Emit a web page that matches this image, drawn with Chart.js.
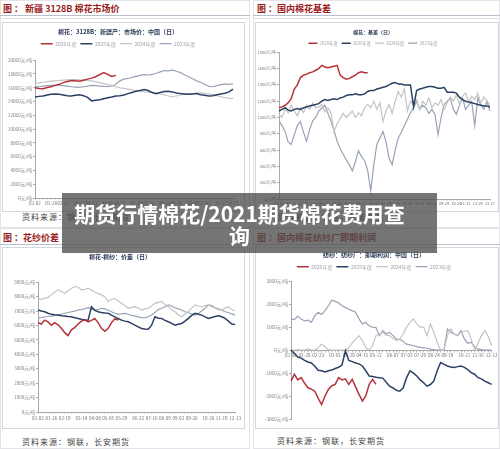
<!DOCTYPE html>
<html lang="zh">
<head>
<meta charset="UTF-8">
<title>期货行情棉花/2021期货棉花费用查询</title>
<script src="https://cdn.jsdelivr.net/npm/chart.js@4"></script>
<style>
  body { margin: 0; width: 500px; height: 449px; position: relative; overflow: hidden; background: #fff; font-family: "Noto Sans CJK SC", sans-serif; }
  .hdr { position: absolute; font-size: 9px; font-weight: bold; color: #9a1a1a; line-height: 12px; white-space: nowrap; }
  .rule { position: absolute; height: 2px; border-top: 1px solid #b9bfcb; border-bottom: 1px solid #dfe2e8; }
  .box { position: absolute; border: 1px solid #d4d7dd; box-sizing: border-box; }
  .frame { position: absolute; border: 1px solid #e2e4e8; box-sizing: border-box; }
  .src { position: absolute; font-size: 8px; color: #444; letter-spacing: 1px; line-height: 10px; white-space: nowrap; }
  canvas { position: absolute; }
  #banner {
    position: absolute; left: 62px; top: 193px; width: 375px; height: 60px;
    box-sizing: border-box; padding: 9px 20px 0 0;
    background: rgba(78, 78, 78, 0.78);
    color: #fff; font-weight: bold; font-size: 21px; line-height: 22px;
    text-align: center; white-space: nowrap;
  }
</style>
</head>
<body>

<div class="frame" style="left:0;top:0;width:250px;height:228px"></div>
<div class="frame" style="left:253px;top:0;width:247px;height:228px"></div>
<div class="frame" style="left:0;top:228px;width:250px;height:221px"></div>
<div class="frame" style="left:253px;top:228px;width:247px;height:221px"></div>

<div class="hdr" style="left:3px;top:3px">图 ： 新疆 3128B 棉花市场价</div>
<div class="hdr" style="left:257px;top:3px">图 ：国内棉花基差</div>
<div class="hdr" style="left:3px;top:232px">图 ：花纱价差</div>
<div class="hdr" style="left:257px;top:232px">图 ：国内棉花纺纱厂即期利润</div>

<div class="rule" style="left:0;top:15px;width:250px"></div>
<div class="rule" style="left:253px;top:15px;width:247px"></div>
<div class="rule" style="left:0;top:244px;width:250px"></div>
<div class="rule" style="left:253px;top:244px;width:247px"></div>

<div class="box" style="left:2px;top:22px;width:243px;height:190px"></div>
<div class="box" style="left:255px;top:22px;width:244px;height:190px"></div>
<div class="box" style="left:2px;top:247px;width:243px;height:182px"></div>
<div class="box" style="left:255px;top:247px;width:244px;height:182px"></div>

<div class="src" style="left:22px;top:212px">资料来源：钢联，长安期货</div>
<div class="src" style="left:277px;top:212px">资料来源：钢联，长安期货</div>
<div class="src" style="left:22px;top:437px">资料来源：钢联，长安期货</div>
<div class="src" style="left:277px;top:436px">资料来源：钢联，长安期货</div>

<canvas id="c1" width="240" height="186" style="left:3px;top:24px"></canvas>
<canvas id="c2" width="242" height="186" style="left:256px;top:24px"></canvas>
<canvas id="c3" width="240" height="181" style="left:3px;top:246px"></canvas>
<canvas id="c4" width="242" height="181" style="left:256px;top:246px"></canvas>

<div id="banner">期货行情棉花/2021期货棉花费用查<br>询</div>

<script>
// 年度图例
const seasons = ['2026年度', '2025年度', '2024年度', '2023年度'];
const seasonColors = ['#b3323a', '#2b4163', '#c4c4c4', '#98a3b6'];
const seasonWidths = [1.5, 1.5, 1.2, 1.2];

// 新疆3128B棉花市场价 (元/吨)
const priceTicks = ['01-02', '01-28', '02-21', '03-17', '04-11', '05-08', '06-01', '06-26', '07-20', '08-13', '09-06', '10-09', '11-03', '11-27', '12-21'];
const price2026 = [16000, 15900, 15850, 16050, 16150, 16350, 16500, 16750, 16900, 17050, 17000, 16950, 17100, 17250, 17400, 17600, 17900, 18200, 17950, 17650, 17800];
const price2025 = [14650, 14750, 14800, 14950, 15050, 15100, 15050, 14950, 14850, 14800,
  14900, 15000, 14850, 14600, 14100, 14200, 14250, 14400, 14550, 14650,
  14800, 14850, 14950, 15150, 15300, 15500, 15600, 15750, 15600, 15300,
  15150, 15300, 15450, 15500, 15400, 15250, 15150, 15100, 15050, 15100,
  15150, 15000, 14900, 14800, 14850, 15000, 15100, 15200, 15400, 15800];
const price2024 = [16650, 16700, 16800, 16900, 16950, 17000, 17050, 17100, 17150, 17200,
  17200, 17150, 17100, 17050, 17000, 16900, 16750, 16600, 16450, 16300,
  16150, 16000, 15900, 15800, 15700, 15600, 15500, 15400, 15350, 15300,
  15250, 15100, 14950, 14800, 14700, 14800, 14950, 15050, 15100, 15150,
  15200, 15250, 15200, 15100, 15000, 14850, 14700, 14550, 14450, 14450];
const price2023 = [16200, 16150, 16250, 16300, 16350, 16400, 16350, 16300, 16250, 16150,
  16100, 16050, 16150, 16250, 16350, 16300, 16250, 16200, 16150, 16250,
  16500, 17000, 17250, 17350, 17500, 17650, 17800, 17900, 17850, 17950,
  18100, 18300, 18500, 18450, 18550, 18400, 18200, 17900, 17600, 17300,
  17000, 16800, 16500, 16200, 16150, 16300, 16450, 16550, 16500, 16550];

// 国内棉花基差 (元/吨)
const basisTicks = ['01-02', '01-20', '02-14', '03-04', '03-22', '04-09', '04-27', '05-17', '06-05', '06-25', '07-15', '08-04', '08-24', '09-11', '09-29', '10-24', '11-11', '11-29', '12-17'];
const basis2026 = [1120, 1130, 1150, 1180, 1230, 1350, 1400, 1490, 1520, 1530, 1550, 1560, 1580, 1600, 1640, 1620, 1610, 1620, 1630, 1640, 1520, 1490, 1470, 1480, 1500, 1520, 1550, 1560, 1550, 1550];
const basis2025 = [1080, 1100, 1120, 1090, 1080, 1100, 1110, 1100, 1120, 1130,
  1140, 1150, 1160, 1170, 1200, 1220, 1210, 1220, 1230, 1220,
  1240, 1250, 1270, 1280, 1280, 1290, 1280, 1280, 1290, 1320,
  1330, 1330, 1350, 1360, 1370, 1380, 1400, 1420, 1430, 1410,
  1410, 1400, 1400, 1400, 1130, 1330, 1350, 1360, 1370, 1380,
  1380, 1370, 1360, 1360, 1370, 1310, 1310, 1310, 1300, 1250,
  1220, 1200, 1190, 1180, 1170, 1160, 1150, 1140, 1140, 1130];
const basis2024 = [1040, 1000, 1100, 1060, 1150, 1080, 1020, 1120, 1060, 1150,
  1100, 1180, 1120, 1130, 1160, 1070, 1120, 1060, 830, 920,
  990, 1050, 1000, 1040, 1080, 1000, 1060, 1020, 1120, 1160,
  1120, 1200, 1100, 1180, 950, 1080, 1160, 1050, 1200, 1320,
  1250, 1350, 1080, 1200, 1160, 1220, 1100, 1200, 1150, 1240,
  1120, 1180, 1150, 1220, 1100, 1180, 1250, 1200, 1280, 1160,
  1260, 1300, 1200, 1260, 1220, 1300, 1180, 1250, 1200, 1150];
const basis2023 = [955, 900, 830, 700, 670, 790, 900, 950, 820, 710,
  850, 955, 1000, 1080, 1120, 1150, 1050, 955, 840, 710,
  620, 550, 480, 420, 345, 460, 590, 520, 470, 350,
  100, 420, 670, 750, 830, 700, 500, 420, 600, 750,
  820, 900, 980, 1060, 1120, 1200, 1100, 1150, 1120, 1050,
  1100, 1040, 790, 1000, 1160, 1200, 1240, 1100, 1040, 1150,
  1240, 1100, 1150, 1200, 900, 1240, 1150, 1100, 1200, 1080];

// 花纱价差 (元/吨)
const spreadTicks = ['01-02', '01-26', '02-19', '03-14', '04-08', '05-05', '05-29', '06-22', '07-16', '08-09', '09-02', '09-26', '10-26', '11-19', '12-13'];
const spread2026 = [6200, 6100, 6370, 6250, 6020, 6200, 6050, 5800, 5500, 5300, 5700, 5850, 6100, 6300, 6400, 6250, 6350, 6480, 6200, 5800, 5600, 5800, 6200, 6450, 6380];
const spread2025 = [7070, 7000, 6950, 6850, 6770, 6740, 6720, 6680, 6660, 6620,
  6600, 6540, 6490, 6430, 6380, 6370, 7300, 7050, 6950, 6900,
  6860, 6840, 6720, 6600, 6480, 6370, 6300, 6260, 6150, 6020,
  5900, 5790, 5760, 5740, 6020, 6600, 6500, 6490, 6350, 6260,
  6150, 6020, 6080, 6140, 6300, 6490, 6700, 6840, 6780, 6720,
  6600, 6490, 6550, 6620, 6670, 6600, 6490, 6300, 6100, 6070];
const spread2024 = [7840, 7820, 7880, 7950, 8120, 8300, 8470, 8350, 8230, 8400,
  8580, 8700, 8650, 8470, 8500, 8580, 8450, 8300, 8230, 8120,
  8000, 7650, 7800, 7880, 7700, 7530, 7400, 7190, 7250, 7300,
  7200, 7070, 7150, 7190, 7350, 7530, 7600, 7650, 7450, 7300,
  7100, 6950, 6750, 6600, 6800, 6950, 7200, 7420, 7350, 7300,
  7380, 7420, 7300, 7190, 7100, 7070, 7200, 7300, 7100, 7000];
const spread2023 = [6490, 6550, 6600, 6620, 6650, 6700, 6720, 6780, 6850, 6900,
  6950, 7000, 7070, 7100, 7150, 7230, 7150, 7070, 7100, 7190,
  7150, 7050, 6950, 6850, 6770, 6800, 6840, 6780, 6700, 6670,
  6600, 6550, 6530, 6600, 6720, 6900, 7100, 7190, 7300, 7420,
  7350, 7230, 7150, 7070, 6950, 6900, 6800, 6720, 6850, 7000,
  7190, 7420, 7380, 7230, 7150, 7070, 6950, 6900, 6800, 6720];

// 纺纱厂即期利润 (元/吨)
const profitTicks = ['01-02', '01-28', '02-23', '03-01', '03-20', '04-15', '05-12', '06-07', '07-03', '07-29', '08-24', '09-19', '10-21', '11-16', '12-12'];
const profit2026 = [-1350, -1050, -1300, -1200, -1450, -1640, -1700, -1790, -2100, -2370, -2000, -1710, -1550, -1490, -1200, -1300, -1250, -1490, -1270, -1600, -1930, -2220, -2000, -1490, -1270, -1490];
const profit2025 = [0, -150, -300, -350, -450, -520, -560, -700, -880, -900,
  -950, -900, -870, -800, -750, -650, -30, -450, -500, -560,
  -600, -690, -900, -1130, -1150, -1180, -1200, -1220, -1400, -1570,
  -1650, -1750, -1790, -1640, -1200, -900, -1000, -1130, -1300, -1420,
  -1570, -1500, -1350, -900, -540, -620, -690, -740, -760, -720,
  -690, -750, -850, -980, -1050, -1200, -1250, -1350, -1420, -1490];
const profit2024 = [0, 0, 20, 0, 0, 50, 0, 0, 100, 260,
  150, 20, 0, 0, 0, 0, 0, 100, 300, 480,
  630, 410, 100, 0, 200, 630, 700, 780, 650, 630,
  500, 410, 480, 700, 1000, 1210, 1360, 1140, 1000, 1000,
  630, 1140, 780, 340, 0, 0, 630, 920, 700, 630,
  780, 820, 850, 480, 0, 300, 630, 850, 600, 190];
const profit2023 = [1360, 1330, 1480, 1350, 1270, 1300, 1210, 1500, 1650, 1550,
  1720, 1930, 2170, 2120, 2050, 1930, 1850, 1780, 1720, 1650,
  1360, 1140, 1210, 1050, 1000, 980, 630, 850, 700, 780,
  630, 480, 470, 380, 260, 230, 190, 150, 120, 100,
  80, 40, 20, 0, 0, 0, 920, 780, 700, 630,
  850, 480, 300, 340, 150, 40, 20, 0, 0, 0];

// spread the date ticks evenly over the data points
function buildLabels(n, ticks) {
  const out = new Array(n).fill('');
  ticks.forEach((t, j) => { out[Math.round(j * (n - 1) / (ticks.length - 1))] = t; });
  return out;
}

// legend height tweak so the plot starts where the original does
const legendGap = {
  id: 'legendGap',
  beforeInit(chart, args, opts) {
    const fit = chart.legend.fit;
    chart.legend.fit = function () {
      fit.call(this);
      if (this.options.display) this.height += (opts.gap || 0);
    };
  }
};

function makeChart(id, o) {
  const n = o.series[1].length;
  const datasets = o.series.map((d, i) => ({
    label: seasons[i],
    data: d,
    borderColor: seasonColors[i],
    backgroundColor: seasonColors[i],
    borderWidth: seasonWidths[i],
    pointRadius: 0,
    tension: 0
  }));
  return new Chart(document.getElementById(id), {
    type: 'line',
    data: { labels: buildLabels(n, o.ticks), datasets: datasets },
    plugins: [legendGap],
    options: {
      responsive: false,
      animation: false,
      devicePixelRatio: 1,
      layout: { padding: o.padding },
      plugins: {
        tooltip: { enabled: false },
        legendGap: { gap: o.legendGap },
        title: {
          display: true, text: o.title, color: '#2c3a57',
          font: { family: 'Noto Sans CJK SC', size: o.titleSize, weight: 'bold' },
          padding: o.titlePad
        },
        legend: {
          display: o.legend,
          labels: {
            usePointStyle: true, pointStyle: 'line', pointStyleWidth: o.boxW,
            boxHeight: 2, padding: 4, color: '#a0a0a0',
            font: { family: 'Noto Sans CJK SC', size: o.legendSize }
          }
        }
      },
      scales: {
        x: {
          type: 'category',
          position: o.xAtZero ? { y: 0 } : 'bottom',
          afterFit: s => { s.height = o.xH; },
          grid: { display: true, drawOnChartArea: false, tickLength: 1.5, color: '#b8b8b8' },
          border: { display: true, color: '#a8a8a8' },
          ticks: {
            autoSkip: false, maxRotation: 0, minRotation: 0, padding: o.xPad,
            color: '#707070', font: { family: 'Noto Sans CJK SC', size: o.xSize }
          }
        },
        y: {
          min: o.min, max: o.max,
          afterFit: s => { s.width = o.yW; },
          grid: { display: true, drawOnChartArea: false, tickLength: 2, color: '#a8a8a8' },
          border: { display: true, color: '#a8a8a8' },
          ticks: {
            stepSize: o.step, padding: 1, color: '#808080',
            font: { family: 'Noto Sans CJK SC', size: o.ySize },
            callback: v => v + '元/吨'
          }
        }
      }
    }
  });
}

makeChart('c1', {
  title: '棉花：3128B：新疆产：市场价：中国（日）', titleSize: 6, titlePad: { top: 4, bottom: 2 },
  legend: true, legendSize: 5, boxW: 12, legendGap: 4,
  series: [price2026, price2025, price2024, price2023], ticks: priceTicks,
  min: 0, max: 20000, step: 2000, yW: 32, ySize: 4.7, xH: 12, xPad: 0.5, xSize: 4.6,
  padding: { left: 0, right: 10, top: 0, bottom: 0 }
});

makeChart('c2', {
  title: '棉花：基差（日）', titleSize: 5, titlePad: { top: 5, bottom: 2 },
  legend: true, legendSize: 4.3, boxW: 9, legendGap: -3,
  series: [basis2026, basis2025, basis2024, basis2023], ticks: basisTicks,
  min: 0, max: 1800, step: 200, yW: 23, ySize: 4, xH: 11, xPad: 0.5, xSize: 3.9,
  padding: { left: 0, right: 8, top: 0, bottom: 0 }
});

makeChart('c3', {
  title: '棉花-棉纱：价差（日）', titleSize: 6, titlePad: { top: 7, bottom: 22 },
  legend: false, legendSize: 5, boxW: 12, legendGap: 0,
  series: [spread2026, spread2025, spread2024, spread2023], ticks: spreadTicks,
  min: 0, max: 9000, step: 1000, yW: 35, ySize: 4.5, xH: 15, xPad: 2, xSize: 4.6,
  padding: { left: 0, right: 6, top: 0, bottom: 0 }
});

makeChart('c4', {
  title: '纺纱：纺纱厂：即期利润：中国（日）', titleSize: 6, titlePad: { top: 5, bottom: 2 },
  legend: true, legendSize: 5, boxW: 12, legendGap: 2,
  series: [profit2026, profit2025, profit2024, profit2023], ticks: profitTicks, xAtZero: true,
  min: -3000, max: 3000, step: 1000, yW: 35, ySize: 4.7, xH: 10, xPad: 0.5, xSize: 4.6,
  padding: { left: 0, right: 6, top: 0, bottom: 8 }
});
</script>
</body>
</html>
